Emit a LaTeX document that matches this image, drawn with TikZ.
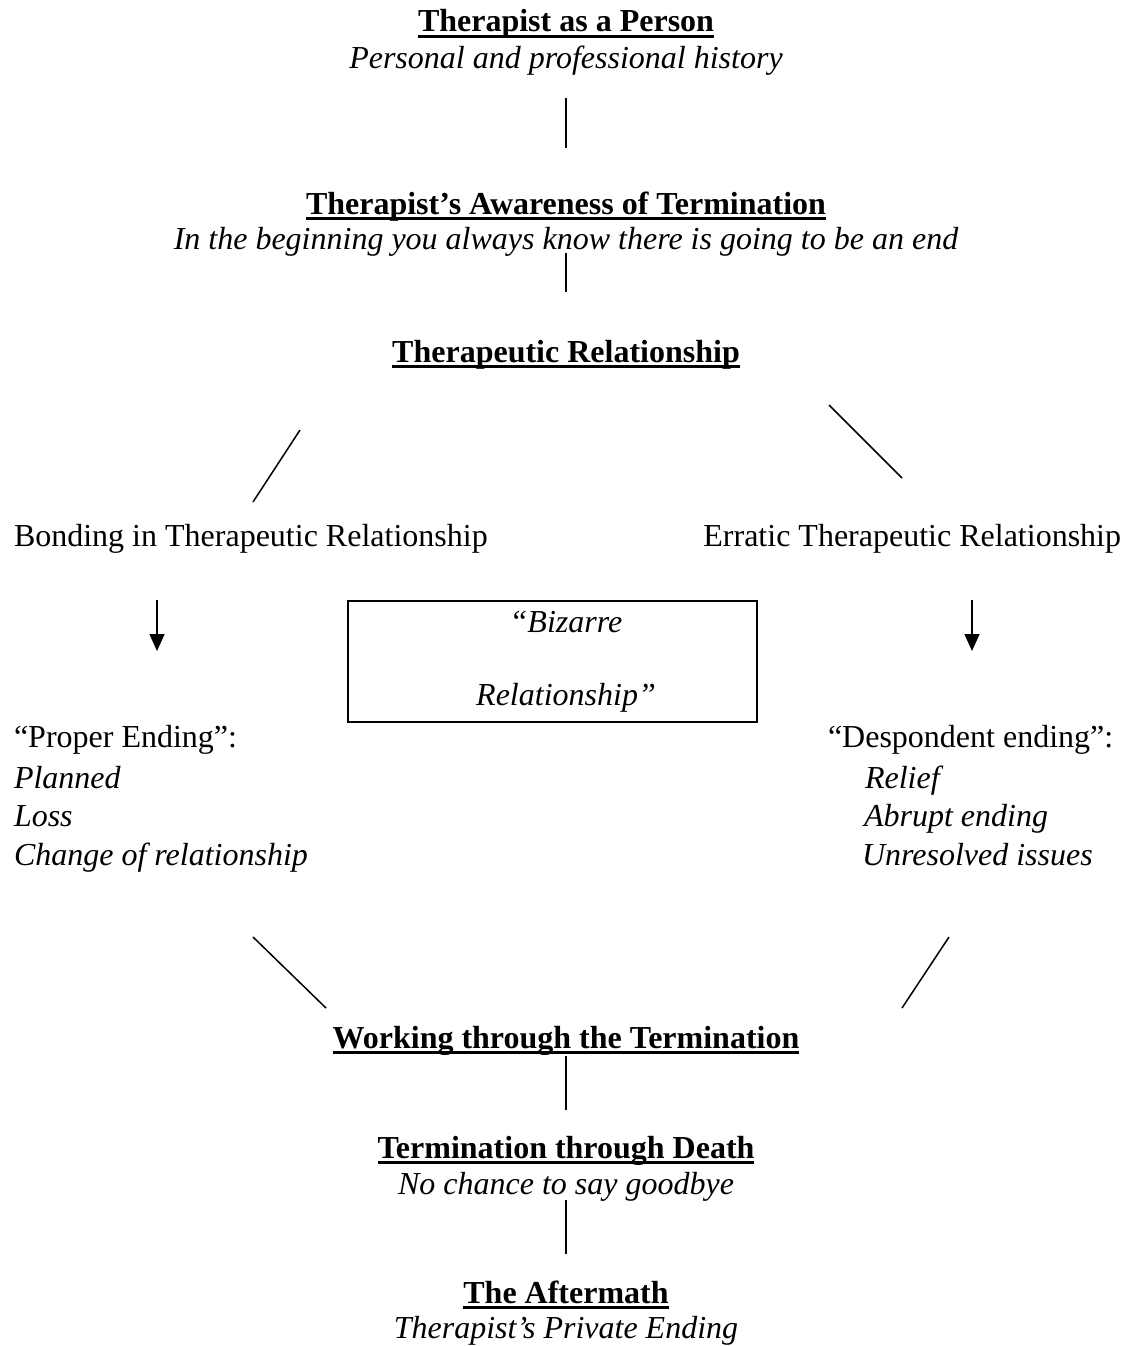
\documentclass[tikz,border=0pt]{standalone}
\usepackage{fontspec}
\setmainfont{Liberation Serif}
\usetikzlibrary{arrows.meta}
\tikzset{
  txt/.style={inner sep=0pt, outer sep=0pt, anchor=base, font=\fontsize{32}{38}\selectfont},
  ttl/.style={txt, font=\fontsize{32}{38}\selectfont\bfseries},
  sub/.style={txt, font=\fontsize{32}{38}\selectfont\itshape},
  link/.style={line width=1.5pt, line cap=butt},
  arr/.style={line width=1.5pt, -{Triangle[length=17pt,width=15pt]}},
  uline/.style={line width=2.8pt},
  bbox/.style={draw, line width=2pt, minimum width=409pt, minimum height=121pt, inner sep=0pt}
}
\begin{document}
\begin{tikzpicture}[x=1pt,y=-1pt]
\useasboundingbox (0,0) rectangle (1128,1346);
% titles and subtitles
\node[ttl] (t1) at (566,32) {Therapist as a Person};
\node[sub] (s1) at (566,68) {Personal and professional history};
\node[ttl] (t2) at (566,214) {Therapist’s Awareness of Termination};
\node[sub] (s2) at (566,249) {In the beginning you always know there is going to be an end};
\node[ttl] (t3) at (566,362) {Therapeutic Relationship};
\node[txt, anchor=base west] (bond) at (14,546) {Bonding in Therapeutic Relationship};
\node[txt, anchor=base east] (err) at (1121,546) {Erratic Therapeutic Relationship};
\node[bbox] (box) at (552.5,661.5) {};
\node[sub] (biz1) at (566,632) {“Bizarre};
\node[sub] (biz2) at (566,705) {Relationship”};
\node[txt, anchor=base west] (pe) at (14,747) {“Proper Ending”:};
\node[sub, anchor=base west] (pe1) at (14,788) {Planned};
\node[sub, anchor=base west] (pe2) at (14,826) {Loss};
\node[sub, anchor=base west] (pe3) at (14,865) {Change of relationship};
\node[txt, anchor=base west] (de) at (828,747) {“Despondent ending”:};
\node[sub, anchor=base west] (de1) at (865,788) {Relief};
\node[sub, anchor=base west] (de2) at (864,826) {Abrupt ending};
\node[sub, anchor=base west] (de3) at (862,865) {Unresolved issues};
\node[ttl] (t4) at (566,1048) {Working through the Termination};
\node[ttl] (t5) at (566,1158) {Termination through Death};
\node[sub] (s5) at (566,1194) {No chance to say goodbye};
\node[ttl] (t6) at (566,1303) {The Aftermath};
\node[sub] (s6) at (566,1338) {Therapist’s Private Ending};
% underlines
\foreach \n in {t1,t2,t3,t4,t5,t6}
  \draw[uline] ([yshift=-4.5pt]\n.base west) -- ([yshift=-4.5pt]\n.base east);
% connector coordinates
\coordinate (a1) at (566,98);   \coordinate (a2) at (566,148);
\coordinate (b1) at (566,253);  \coordinate (b2) at (566,292);
\coordinate (l1) at (300,430);  \coordinate (l2) at (253,502);
\coordinate (r1) at (829,405);  \coordinate (r2) at (902,478);
\coordinate (la1) at (157,600); \coordinate (la2) at (157,651);
\coordinate (ra1) at (972,600); \coordinate (ra2) at (972,651);
\coordinate (ld1) at (253,937); \coordinate (ld2) at (326,1008);
\coordinate (rd1) at (949,937); \coordinate (rd2) at (902,1008);
\coordinate (c1) at (566,1056); \coordinate (c2) at (566,1110);
\coordinate (d1) at (566,1200); \coordinate (d2) at (566,1254);
% connectors
\draw[link] (a1) -- (a2);
\draw[link] (b1) -- (b2);
\draw[link] (l1) -- (l2);
\draw[link] (r1) -- (r2);
\draw[arr] (la1) -- (la2);
\draw[arr] (ra1) -- (ra2);
\draw[link] (ld1) -- (ld2);
\draw[link] (rd1) -- (rd2);
\draw[link] (c1) -- (c2);
\draw[link] (d1) -- (d2);
\end{tikzpicture}
\end{document}
